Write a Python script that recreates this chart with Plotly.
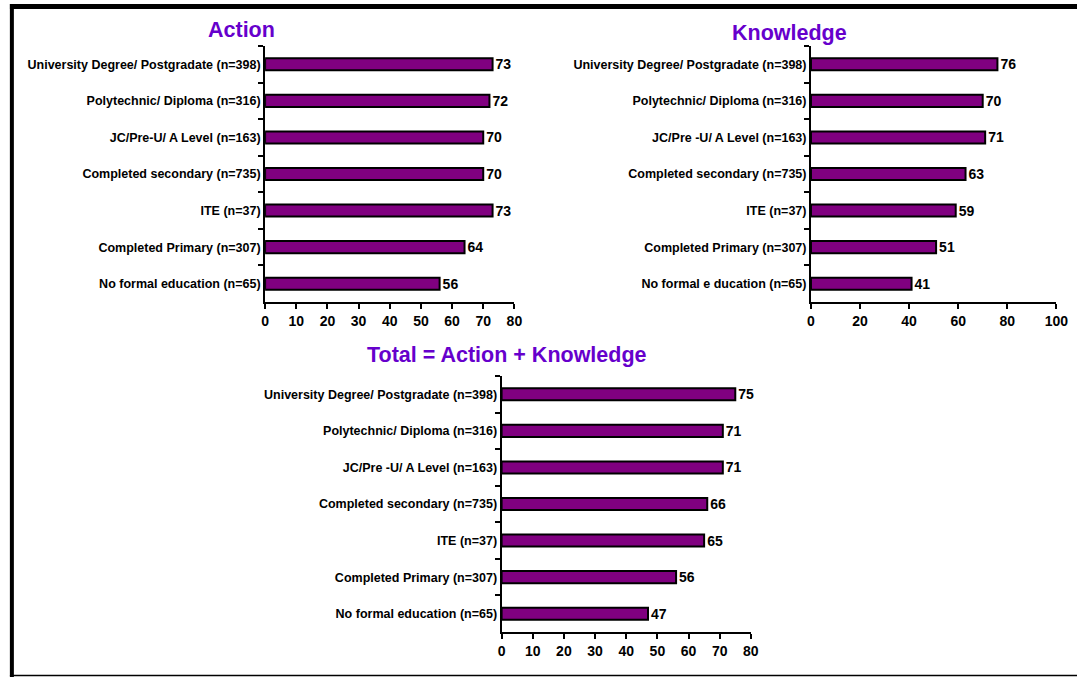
import plotly.graph_objects as go

W, H = 1089, 677

labels_action = ['University Degree/ Postgradate (n=398)', 'Polytechnic/ Diploma (n=316)',
                 'JC/Pre-U/ A Level (n=163)', 'Completed secondary (n=735)', 'ITE (n=37)',
                 'Completed Primary (n=307)', 'No formal education (n=65)']
labels_know = ['University Degree/ Postgradate (n=398)', 'Polytechnic/ Diploma (n=316)',
               'JC/Pre -U/ A Level (n=163)', 'Completed secondary (n=735)', 'ITE (n=37)',
               'Completed Primary (n=307)', 'No formal e ducation (n=65)']
labels_total = ['University Degree/ Postgradate (n=398)', 'Polytechnic/ Diploma (n=316)',
                'JC/Pre -U/ A Level (n=163)', 'Completed secondary (n=735)', 'ITE (n=37)',
                'Completed Primary (n=307)', 'No formal education (n=65)']

action = [73, 72, 70, 70, 73, 64, 56]
knowledge = [76, 70, 71, 63, 59, 51, 41]
total = [75, 71, 71, 66, 65, 56, 47]

titles = ['Action', 'Knowledge', 'Total = Action + Knowledge']

# pixel boxes: x0, x1, top, bottom
boxes = [(265, 518, 46, 302), (819, 1068, 46, 302), (505, 758, 376, 632)]
ranges = [[0, 80], [0, 100], [0, 80]]
dticks = [10, 20, 10]

FONT = 'Liberation Sans, Arial'

fig = go.Figure()

def px_x(x):
    return x / W

def px_y(y):
    return 1 - y / H

for i, (labs, vals) in enumerate([(labels_action, action), (labels_know, knowledge), (labels_total, total)]):
    n = '' if i == 0 else str(i + 1)
    fig.add_trace(go.Bar(
        x=vals, y=labs, orientation='h',
        xaxis='x' + n, yaxis='y' + n,
        marker=dict(color='#800080', line=dict(color='black', width=2)),
        text=[str(v) for v in vals], textposition='outside', cliponaxis=False,
        constraintext='none',
        textfont=dict(family=FONT, size=14, color='black', weight='bold'),
        showlegend=False,
    ))
    x0, x1, top, bot = boxes[i]
    fig.layout['xaxis' + n] = dict(
        domain=[px_x(x0), px_x(x1)], anchor='y' + n, range=ranges[i], dtick=dticks[i],
        showgrid=False, zeroline=False, showline=True, linecolor='black', linewidth=2,
        ticks='outside', ticklen=5, tickwidth=2, tickcolor='black',
        tickfont=dict(family=FONT, size=14, color='black', weight='bold'),
    )
    fig.layout['yaxis' + n] = dict(
        domain=[px_y(bot), px_y(top)], anchor='x' + n, autorange='reversed',
        showgrid=False, showline=True, linecolor='black', linewidth=2,
        ticks='outside', ticklen=5, tickwidth=2, tickcolor='black', tickson='boundaries',
        tickfont=dict(family=FONT, size=12.5, color='black', weight='bold'),
    )

title_pos = [(241, 30), (797, 33), (510, 355)]
for t, (tx, ty) in zip(titles, title_pos):
    fig.add_annotation(text=t, x=px_x(tx), y=px_y(ty), xref='paper', yref='paper',
                       showarrow=False, xanchor='center', yanchor='middle',
                       font=dict(family=FONT, size=21.5, color='#6600CC', weight='bold'))

# frame
fig.add_shape(type='line', xref='paper', yref='paper', x0=px_x(6), x1=1, y0=px_y(6.5), y1=px_y(6.5),
              line=dict(color='black', width=5))
fig.add_shape(type='line', xref='paper', yref='paper', x0=px_x(8), x1=px_x(8), y0=px_y(4), y1=px_y(677),
              line=dict(color='black', width=4))
fig.add_shape(type='line', xref='paper', yref='paper', x0=px_x(6), x1=1, y0=px_y(675.5), y1=px_y(675.5),
              line=dict(color='black', width=1.5))

fig.update_layout(
    width=W, height=H, margin=dict(l=0, r=0, t=0, b=0),
    plot_bgcolor='white', paper_bgcolor='white',
    bargap=0.67,
)

fig.write_html(
    "out.html",
    config={'displayModeBar': False},
    post_script="document.documentElement.style.overflow='hidden';"
                "document.body.style.overflow='hidden';"
                "document.body.style.margin='0';document.body.style.padding='0';",
)
